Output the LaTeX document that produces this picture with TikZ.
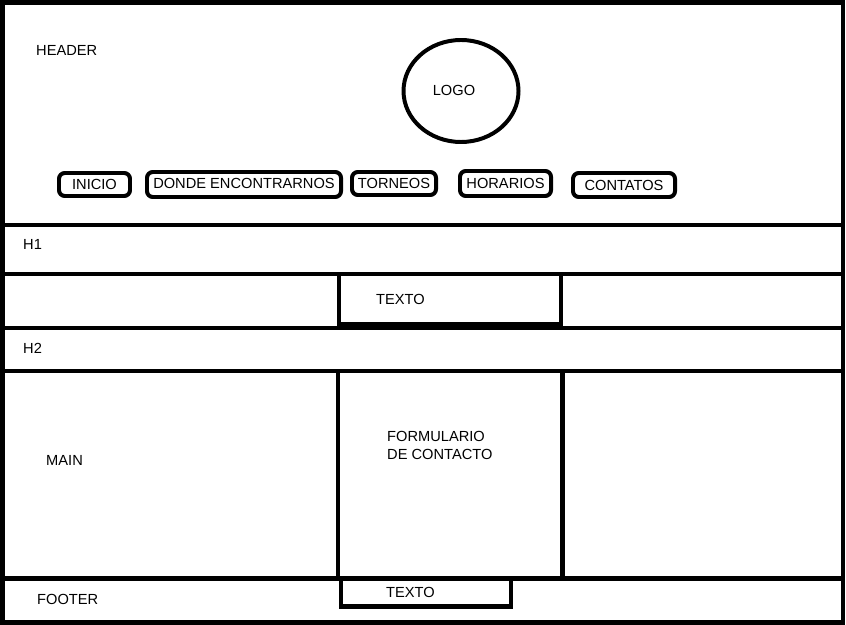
\documentclass[tikz,border=0pt]{standalone}
\usepackage{fontspec}
\setmainfont{Liberation Sans}
\usepackage{tikz}
\usetikzlibrary{
	calc,
	shapes,
	positioning
	}
\tikzstyle{linea-std}=[draw,line width=3.8pt]
\tikzstyle{boton-std}=[draw,line width=3.4pt,rounded corners=5pt,inner sep=0pt]
\tikzstyle{texto-std}=[inner sep=0pt,font=\fontsize{12.5}{15.3}\selectfont]

\begin{document}
\begin{tikzpicture}[x=0.03cm,y=-0.03cm]
\useasboundingbox (0,0) rectangle (846,625);

% marco y filas
\draw[linea-std] (2.5,2.5) rectangle (843,622.5);
\draw[linea-std] (2.5,225) -- (843,225);
\draw[linea-std] (2.5,274) -- (843,274);
\draw[linea-std] (2.5,328) -- (843,328);
\draw[linea-std] (2.5,371) -- (843,371);
\draw[linea-std] (2.5,578.5) -- (843,578.5);

% columnas centrales
\draw[linea-std] (339,274) rectangle (561,324);
\draw[linea-std] (338,371) -- (338,578.5);
\draw[linea-std] (562.5,371) -- (562.5,578.5);
\draw[linea-std] (341,578.5) rectangle (511,606.5);

% logo
\node[draw,ellipse,line width=3.4pt,texto-std,minimum width=3.45cm,minimum height=3.06cm] (logo) at (461,91) {};
\node[texto-std] (logotxt) at (454,90) {LOGO};

% menu
\node[boton-std,texto-std,minimum width=2.13cm,minimum height=0.69cm] (inicio) at (94.5,184.5) {INICIO};
\node[boton-std,texto-std,minimum width=5.82cm,minimum height=0.75cm] (donde) at (244,184.5) {\raisebox{2pt}{DONDE ENCONTRARNOS}};
\node[boton-std,texto-std,minimum width=2.52cm,minimum height=0.69cm] (torneos) at (394,183.5) {\raisebox{1pt}{TORNEOS}};
\node[boton-std,texto-std,minimum width=2.73cm,minimum height=0.75cm] (horarios) at (505.5,183.5) {HORARIOS};
\node[boton-std,texto-std,minimum width=3.06cm,minimum height=0.72cm] (contatos) at (624,185) {CONTATOS};

% textos
\node[texto-std,anchor=west] (header) at (36,50) {HEADER};
\node[texto-std,anchor=west] (h1) at (23,244) {H1};
\node[texto-std,anchor=west] (texto1) at (376,299) {TEXTO};
\node[texto-std,anchor=west] (h2) at (23,348) {H2};
\node[texto-std,anchor=west] (main) at (46,460) {MAIN};
\node[texto-std,anchor=west,align=left] (form) at (387,445) {FORMULARIO\\DE CONTACTO};
\node[texto-std,anchor=west] (footer) at (37,599) {FOOTER};
\node[texto-std,anchor=west] (texto2) at (386,592) {TEXTO};
\end{tikzpicture}
\end{document}
